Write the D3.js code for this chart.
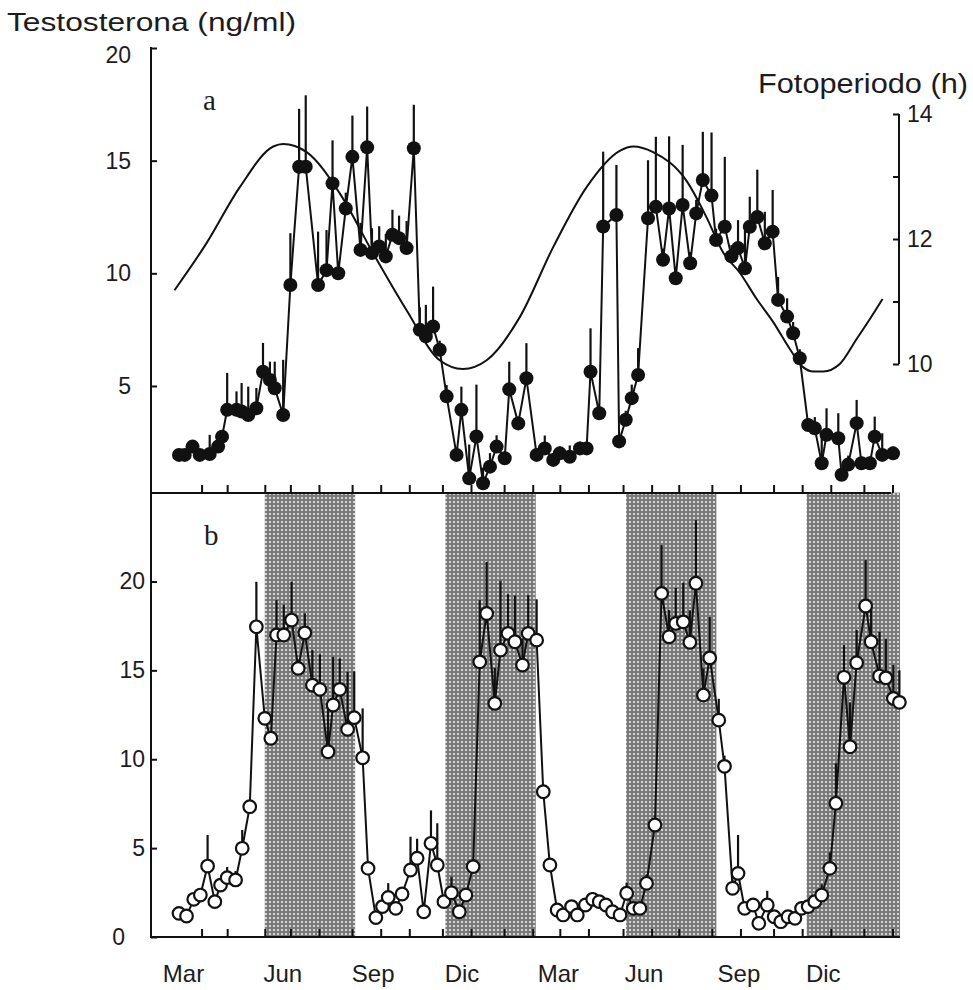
<!DOCTYPE html>
<html>
<head>
<meta charset="utf-8">
<script src="https://cdn.jsdelivr.net/npm/d3@7"></script>
<style>
  body { margin: 0; background: #fff; }
  svg text { font-family: "Liberation Sans", Arial, sans-serif; fill: #1c1c1c; }
</style>
</head>
<body>
<div id="chart"></div>
<script>
// time is in months counted from 1 March of the first year
const monthLabels = ["Mar", "Jun", "Sep", "Dic", "Mar", "Jun", "Sep", "Dic"];
const monthLabelAt = [0.3, 3.6, 6.6, 9.55, 12.75, 15.6, 18.75, 21.55];
const tickMonths = [0.9, 1.75, 3.0, 3.85, 4.8, 5.9, 6.85, 7.8, 8.9, 9.85, 10.95, 11.9,
                    12.8, 13.75, 14.9, 15.85, 16.75, 17.85, 18.8, 19.9, 20.85, 21.8, 22.9, 23.85];
const shadedPeriods = [[3, 6], [9, 12], [15, 18], [21, 24.1]];

// photoperiod (h), right axis of panel a
const photoMonth = [0.0, 1.06, 2.17, 3.28, 3.61, 4.39, 5.49, 6.60, 7.71, 8.81, 9.58, 10.37, 11.47,
                    12.58, 13.69, 14.79, 15.24, 15.90, 17.01, 17.67, 18.23, 18.78, 19.34, 19.89,
                    20.44, 20.88, 21.22, 21.55, 22.10, 22.66, 23.10, 23.52];
const photoHours = [11.18, 11.93, 12.83, 13.48, 13.52, 13.39, 12.73, 11.77, 10.86, 10.06, 9.92, 10.06, 10.75,
                    11.87, 12.83, 13.41, 13.48, 13.39, 12.93, 12.35, 11.78, 11.46, 11.04, 10.67,
                    10.24, 9.95, 9.88, 9.88, 10.0, 10.4, 10.72, 11.04];

// panel a: testosterone (ng/ml), mean and SEM
const aMonth = [0.15,0.34,0.60,0.84,1.17,1.45,1.58,1.75,2.06,2.23,2.45,2.72,2.94,3.17,3.33,3.61,3.85,4.14,4.36,4.77,
  5.05,5.25,5.44,5.69,5.91,6.18,6.40,6.56,6.80,7.02,7.24,7.46,7.71,7.95,8.15,8.35,8.59,8.81,9.04,9.37,
  9.53,9.79,10.03,10.25,10.48,10.70,10.97,11.12,11.42,11.69,12.03,12.30,12.58,12.80,13.13,13.47,13.69,13.82,14.11,14.24,
  14.68,14.77,14.99,15.19,15.40,15.73,15.99,16.23,16.43,16.65,16.88,17.13,17.33,17.55,17.84,17.99,18.28,18.50,18.72,18.95,
  19.11,19.36,19.61,19.87,20.05,20.35,20.55,20.77,21.05,21.27,21.50,21.66,22.05,22.16,22.38,22.66,22.82,23.10,23.26,23.51,23.87];
const aMean = [1.94,1.94,2.31,1.94,1.98,2.31,2.75,3.94,3.94,3.87,3.71,4.01,5.63,5.27,4.9,3.71,9.48,14.73,14.73,9.48,
  10.14,13.99,10.0,12.88,15.17,11.04,15.59,10.9,11.19,10.75,11.71,11.56,11.12,15.55,7.49,7.2,7.64,6.61,4.54,1.94,
  3.94,0.9,2.76,0.68,1.42,2.31,1.79,4.85,3.34,5.34,1.94,2.23,1.72,2.01,1.86,2.23,2.23,5.63,3.79,12.08,
  12.59,2.54,3.5,4.46,5.49,12.44,12.95,10.6,12.88,9.78,13.03,10.45,12.66,14.14,13.45,11.48,12.07,10.75,11.12,10.22,
  12.07,12.5,11.33,11.85,8.82,8.08,7.34,6.23,3.27,3.12,1.57,2.83,2.68,1.06,1.51,3.35,1.57,1.57,2.75,1.94,2.01];
const aSem = [0.2,0.2,0.2,0.2,0.85,0.3,0.3,1.64,0.82,1.26,1.26,0.9,1.28,0.81,1.18,2.45,2.3,2.57,3.17,2.37,
  1.78,1.91,0.3,0.7,1.83,1.2,1.81,1.1,0.9,1.0,1.11,1.0,1.2,1.93,1.0,1.4,1.77,0.4,0.5,0.3,
  1.03,1.5,2.3,0.7,0.6,0.5,0.3,1.23,0.3,1.56,0.3,0.57,0.3,0.3,0.5,0.3,0.3,1.93,0.3,3.32,
  2.22,0.4,0.4,0.6,1.19,2.58,3.11,0.5,3.2,0.5,2.67,0.5,0.6,2.14,2.8,0.5,3.1,0.5,1.24,1.7,
  1.33,2.1,1.4,1.85,1.02,0.81,0.5,0.4,0.3,0.5,1.18,1.18,1.11,0.3,0.4,1.03,0.3,0.3,0.89,0.96,0.3];

// panel b
const bMonth = [0.15,0.40,0.64,0.86,1.10,1.34,1.53,1.75,2.03,2.25,2.50,2.72,3.00,3.20,3.39,3.63,3.89,4.11,4.33,4.58,
  4.83,5.10,5.27,5.49,5.75,5.97,6.25,6.43,6.69,6.91,7.10,7.35,7.56,7.84,8.06,8.28,8.52,8.73,8.95,9.20,
  9.46,9.68,9.92,10.14,10.37,10.64,10.83,11.08,11.31,11.56,11.75,12.03,12.25,12.47,12.71,12.91,13.19,13.38,13.65,13.89,
  14.11,14.33,14.55,14.80,15.02,15.24,15.46,15.68,15.96,16.18,16.43,16.65,16.90,17.12,17.32,17.57,17.78,18.08,18.27,18.54,
  18.72,18.94,19.22,19.41,19.69,19.92,20.14,20.38,20.61,20.83,21.05,21.27,21.50,21.77,21.97,22.24,22.44,22.66,22.96,23.14,
  23.42,23.63,23.88,24.08];
const bMean = [1.33,1.18,2.12,2.36,3.99,1.99,2.92,3.34,3.21,4.99,7.33,17.45,12.3,11.18,16.99,16.99,17.83,15.11,17.11,14.17,
  13.93,10.42,13.05,13.93,11.68,12.34,10.08,3.86,1.09,1.71,2.23,1.61,2.42,3.77,4.43,1.42,5.27,4.05,1.99,2.49,
  1.42,2.36,3.96,15.48,18.2,13.14,16.14,17.08,16.61,15.3,17.08,16.7,8.17,4.05,1.52,1.24,1.71,1.24,1.8,2.12,
  1.99,1.8,1.42,1.24,2.46,1.61,1.61,3.02,6.3,19.33,16.89,17.64,17.73,16.58,19.9,13.61,15.7,12.2,9.6,2.74,
  3.58,1.61,1.8,0.77,1.8,1.14,0.86,1.14,1.05,1.61,1.71,1.99,2.36,3.86,7.52,14.61,10.7,15.43,18.62,16.61,
  14.68,14.58,13.42,13.2];
const bSem = [0.2,0.2,0.2,0.2,1.75,0.2,0.3,0.6,0.5,1.03,0.3,2.53,0.4,0.4,1.96,1.7,2.15,0.5,1.1,1.97,
  1.97,2.72,2.71,1.74,3.24,2.6,2.78,0.4,0.2,0.3,0.8,0.3,0.3,1.87,1.1,0.3,1.85,2.35,0.3,0.9,
  0.3,0.3,0.4,3.47,2.9,2.0,3.9,2.2,2.6,1.5,2.15,2.3,0.4,0.4,0.3,0.3,0.3,0.3,0.4,0.4,
  0.3,0.3,0.3,0.3,0.6,0.3,0.3,0.5,0.5,2.72,1.5,2.0,2.2,1.8,3.55,1.5,2.3,1.2,0.6,0.5,
  2.16,0.3,0.3,0.3,0.8,0.3,0.3,0.3,0.3,0.3,0.3,0.3,0.6,0.9,2.25,1.81,2.5,1.84,2.58,1.8,
  2.49,2.2,1.88,1.8];

const W = 973, H = 990;
const ink = "#111";

const svg = d3.select("#chart").append("svg")
  .attr("width", W).attr("height", H);

// stipple texture of the shaded bands
const pat = svg.append("defs").append("pattern")
  .attr("id", "stipple").attr("patternUnits", "userSpaceOnUse")
  .attr("width", 4).attr("height", 4);
pat.append("rect").attr("width", 4).attr("height", 4).attr("fill", "#7a7a7a");
pat.append("rect").attr("x", 1).attr("y", 1).attr("width", 2).attr("height", 2).attr("fill", "#d6d6d6");

const x = d3.scaleLinear().domain([-0.78, 24.1]).range([151, 900]);
const yA = d3.scaleLinear().domain([0.25, 20]).range([493, 48]);
const yB = d3.scaleLinear().domain([0, 25]).range([937, 492.6]);
const yP = d3.scaleLinear().domain([10, 14]).range([364, 114]);

const aData = aMonth.map((m, i) => ({m, v: aMean[i], e: aSem[i]}));
const bData = bMonth.map((m, i) => ({m, v: bMean[i], e: bSem[i]}));
const pData = photoMonth.map((m, i) => ({m, h: photoHours[i]}));

// ---- panel b shading
svg.append("g").selectAll("rect")
  .data(shadedPeriods)
  .join("rect")
  .attr("x", d => x(d[0]))
  .attr("width", d => x(d[1]) - x(d[0]))
  .attr("y", yB(25))
  .attr("height", yB(0) - yB(25))
  .attr("fill", "url(#stipple)");

// ---- axes
function leftAxis(scale, ticks, top, bottom, pad) {
  const g = svg.append("g").attr("transform", `translate(${x.range()[0]},0)`);
  g.call(d3.axisLeft(scale).tickValues(ticks).tickSize(-6).tickSizeOuter(0).tickPadding(pad));
  g.select(".domain").remove();
  g.append("line").attr("y1", top).attr("y2", bottom).attr("stroke", ink).attr("stroke-width", 2);
  g.selectAll(".tick line").attr("stroke", ink).attr("stroke-width", 2);
  g.selectAll(".tick text").attr("font-size", 23).attr("fill", "#1c1c1c")
    .attr("font-family", "Liberation Sans, Arial, sans-serif");
  return g;
}

function bottomAxis(yPos, x1) {
  const g = svg.append("g").attr("transform", `translate(0,${yPos})`);
  g.call(d3.axisBottom(x).tickValues(tickMonths).tickSize(-8).tickSizeOuter(0).tickFormat(""));
  g.select(".domain").remove();
  g.append("line").attr("x1", x.range()[0]).attr("x2", x1).attr("stroke", ink).attr("stroke-width", 2.2);
  g.selectAll(".tick line").attr("stroke", ink).attr("stroke-width", 2);
  return g;
}

const axA = leftAxis(yA, [5, 10, 15, 20], yA(0.25), yA(20) - 1, 20);
// the top label sits a little under its tick in the original
axA.selectAll(".tick text").filter(d => d === 20).attr("dy", "0.62em");
bottomAxis(yA(0.25), x(23.8));
const axB = leftAxis(yB, [0, 5, 10, 15, 20], yB(0) + 1, yB(25), 6);
axB.selectAll(".tick text").filter(d => d === 0).attr("dx", -20);
bottomAxis(yB(0), x.range()[1]);

// right axis: photoperiod
const gr = svg.append("g").attr("transform", `translate(899,0)`);
gr.call(d3.axisRight(yP).tickValues([10, 11, 12, 13, 14]).tickSize(-6).tickSizeOuter(0)
  .tickPadding(8).tickFormat(d => d % 2 === 0 ? d : ""));
gr.select(".domain").remove();
gr.append("line").attr("y1", yP(10)).attr("y2", yP(14)).attr("stroke", ink).attr("stroke-width", 2);
gr.selectAll(".tick line").attr("stroke", ink).attr("stroke-width", 2);
gr.selectAll(".tick text").attr("font-size", 23).attr("fill", "#1c1c1c")
  .attr("font-family", "Liberation Sans, Arial, sans-serif");

// month labels
svg.append("g").selectAll("text")
  .data(monthLabels)
  .join("text")
  .attr("x", (d, i) => x(monthLabelAt[i]))
  .attr("y", 982)
  .attr("text-anchor", "middle")
  .attr("font-size", 24)
  .text(d => d);

// ---- photoperiod curve
svg.append("path")
  .datum(pData)
  .attr("fill", "none")
  .attr("stroke", ink)
  .attr("stroke-width", 2)
  .attr("d", d3.line().x(d => x(d.m)).y(d => yP(d.h)).curve(d3.curveMonotoneX));

// ---- series
function series(data, y, filled) {
  const g = svg.append("g");
  g.selectAll(".err")
    .data(data)
    .join("line")
    .attr("class", "err")
    .attr("x1", d => x(d.m)).attr("x2", d => x(d.m))
    .attr("y1", d => y(d.v)).attr("y2", d => y(d.v + d.e))
    .attr("stroke", ink).attr("stroke-width", 2.2);
  g.append("path")
    .datum(data)
    .attr("fill", "none")
    .attr("stroke", ink)
    .attr("stroke-width", 2)
    .attr("d", d3.line().x(d => x(d.m)).y(d => y(d.v)));
  g.selectAll("circle")
    .data(data)
    .join("circle")
    .attr("cx", d => x(d.m))
    .attr("cy", d => y(d.v))
    .attr("r", filled ? 7 : 6.3)
    .attr("fill", filled ? ink : "#fff")
    .attr("stroke", ink)
    .attr("stroke-width", filled ? 0 : 2.2);
}

series(aData, yA, true);
series(bData, yB, false);

// ---- titles
svg.append("text")
  .attr("x", 7).attr("y", 31)
  .attr("font-size", 25)
  .attr("textLength", 289).attr("lengthAdjust", "spacingAndGlyphs")
  .text("Testosterona (ng/ml)");

svg.append("text")
  .attr("x", 758).attr("y", 93)
  .attr("font-size", 27)
  .attr("textLength", 210).attr("lengthAdjust", "spacingAndGlyphs")
  .text("Fotoperiodo (h)");

svg.append("text")
  .attr("x", 203).attr("y", 110)
  .attr("font-size", 29)
  .style("font-family", "Liberation Serif, 'Times New Roman', serif")
  .text("a");

svg.append("text")
  .attr("x", 204).attr("y", 545)
  .attr("font-size", 29)
  .style("font-family", "Liberation Serif, 'Times New Roman', serif")
  .text("b");
</script>
</body>
</html>
